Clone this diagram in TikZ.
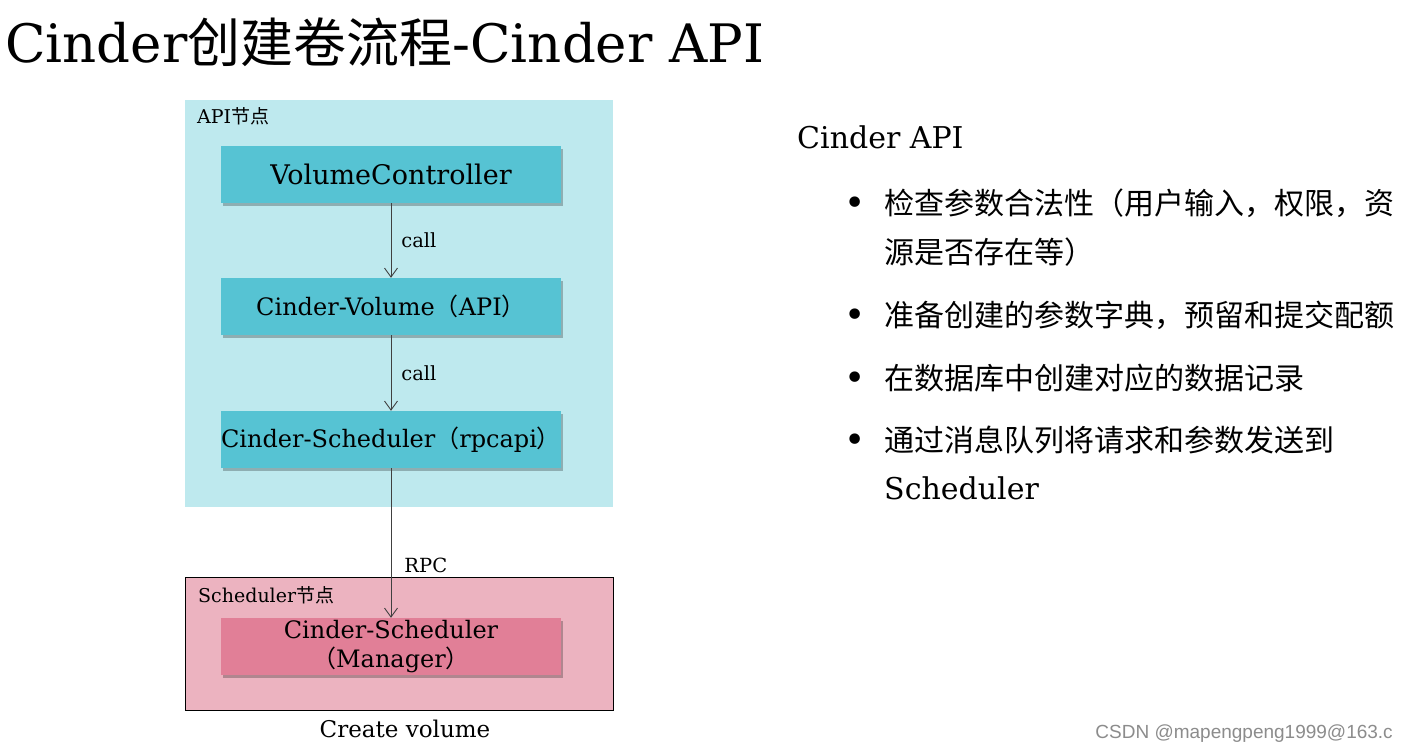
\documentclass[tikz,border=0pt]{standalone}
\usepackage{fontspec}
\setmainfont{DejaVu Serif}
\newfontfamily\cjk{Noto Sans CJK SC}
\newfontfamily\markfont{Liberation Sans}
\usetikzlibrary{arrows.meta,shadows}

\definecolor{apibg}{HTML}{BEE9EE}
\definecolor{apibox}{HTML}{56C3D3}
\definecolor{schedbg}{HTML}{ECB3C0}
\definecolor{schedbox}{HTML}{E17F97}
\definecolor{flowgray}{HTML}{404040}

\tikzset{
  compbox/.style={minimum width=340pt, minimum height=57pt, inner sep=0pt, align=center,
    font=\fontsize{24}{29}\selectfont,
    drop shadow={shadow xshift=2pt, shadow yshift=-3pt, opacity=.25, fill=black}},
  flow/.style={draw=flowgray, line width=0.9pt, -{Straight Barb[length=9pt,width=13pt]}},
  flowlabel/.style={font=\fontsize{19.5}{22}\selectfont, inner sep=0pt},
  arealabel/.style={anchor=base west, inner sep=0pt, font=\fontsize{19}{22}\selectfont},
  itemtext/.style={anchor=base west, inner sep=0pt, font=\fontsize{30}{36}\selectfont},
}

\begin{document}
\begin{tikzpicture}[x=1pt, y=-1pt]
  \useasboundingbox[fill=white] (0,0) rectangle (1409,751);

  % title
  \node[anchor=base west, inner sep=0pt, font=\fontsize{53}{60}\selectfont] (title) at (5,63)
    {Cinder{\cjk 创建卷流程}-Cinder API};

  % API node area
  \fill[apibg] (185,100) rectangle (613,507);
  \node[arealabel] (apilabel) at (197,124) {API{\cjk 节点}};
  \node[compbox, fill=apibox, font=\fontsize{27}{32}\selectfont] (volctl) at (391,174.5) {VolumeController};
  \node[compbox, fill=apibox] (volapi) at (391,306.5) {Cinder-Volume{\cjk （}API{\cjk ）}};
  \node[compbox, fill=apibox] (schedrpc) at (391,439.5) {Cinder-Scheduler{\cjk （}rpcapi{\cjk ）}};

  % Scheduler node area
  \filldraw[fill=schedbg, draw=black, line width=0.8pt] (185,577) rectangle (613,710);
  \node[arealabel] (schedlabel) at (198,602) {Scheduler{\cjk 节点}};
  \node[compbox, fill=schedbox] (schedmgr) at (391,646.5) {Cinder-Scheduler\\{\cjk （}Manager{\cjk ）}};
  \node[font=\fontsize{23}{28}\selectfont, inner sep=0pt] (caption) at (405,729) {Create volume};

  % calls
  \draw[flow] (volctl) -- node[flowlabel, right=10pt] {call} (volapi);
  \draw[flow] (volapi) -- node[flowlabel, right=10pt] {call} (schedrpc);
  \draw[flow] (schedrpc) -- node[flowlabel, right=13pt, pos=0.65] {RPC} (schedmgr);

  % right column
  \node[anchor=base west, inner sep=0pt, font=\fontsize{30}{36}\selectfont] (heading) at (797,149) {Cinder API};
  \foreach \y/\n in {206/b1, 318/b2, 381/b3, 443/b4}
    \node[inner sep=0pt, font=\fontsize{36}{40}\selectfont] (\n) at (855,\y) {•};
  \node[itemtext] (t1a) at (884,214.5) {\cjk 检查参数合法性（用户输入，权限，资};
  \node[itemtext] (t1b) at (884,263.5) {\cjk 源是否存在等）};
  \node[itemtext] (t2) at (884,326.5) {\cjk 准备创建的参数字典，预留和提交配额};
  \node[itemtext] (t3) at (884,389.5) {\cjk 在数据库中创建对应的数据记录};
  \node[itemtext] (t4a) at (884,451.5) {\cjk 通过消息队列将请求和参数发送到};
  \node[itemtext] (t4b) at (884,499) {Scheduler};

  % watermark
  \node[anchor=base east, inner sep=0pt, text=black!45, font=\markfont\fontsize{19}{22}\selectfont] (mark) at (1393,738)
    {CSDN @mapengpeng1999@163.c};
\end{tikzpicture}
\end{document}
